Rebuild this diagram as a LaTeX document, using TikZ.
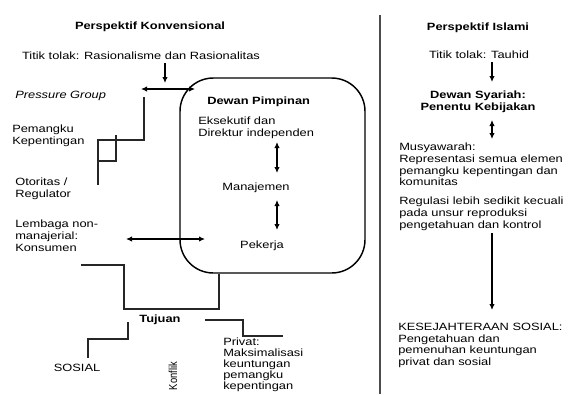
\documentclass[tikz,border=0pt]{standalone}
\usepackage{fontspec}
\setmainfont{Liberation Sans}[FakeStretch=1.22]
\newfontfamily\plainfont{Liberation Sans}
\usetikzlibrary{arrows.meta}
\begin{document}
\begin{tikzpicture}[x=0.75pt,y=-0.75pt,
  txt/.style={font=\fontsize{7.9pt}{8.7pt}\selectfont, inner sep=0pt, text=black},
  ml/.style={txt, align=left, anchor=north west},
  bld/.style={txt, font=\fontsize{7.9pt}{8.7pt}\selectfont\bfseries},
  conn/.style={draw=black!85, line width=0.8pt},
  arr/.style={draw=black, line width=0.8pt, -{Latex[length=4.5pt,width=4pt]}},
  darr/.style={draw=black, line width=0.8pt, {Latex[length=4.5pt,width=4pt]}-{Latex[length=4.5pt,width=4pt]}},
  boxst/.style={draw=black, line width=1.1pt, rounded corners=25}
]
\useasboundingbox (0,0) rectangle (571,394);

% ---------- left: conventional perspective ----------
\node[bld] (kon) at (150,27) {Perspektif Konvensional};
\node[txt] (tt1) at (141,56) {Titik tolak: Rasionalisme dan Rasionalitas};
\node[txt, anchor=west, font=\fontsize{7.9pt}{8.7pt}\selectfont\itshape] (pg) at (15,96) {Pressure Group};
\node[ml] (pk) at (12,125) {Pemangku\\Kepentingan};
\node[ml] (ot) at (15,178) {Otoritas /\\Regulator};
\node[ml] (lb) at (15,220) {Lembaga non-\\manajerial:\\Konsumen};

\draw[boxst] (180,78) rectangle (365,273);
\node[bld, anchor=west] (dp) at (207,102) {Dewan Pimpinan};
\node[ml] (ek) at (198,117) {Eksekutif dan\\Direktur independen};
\node[txt] (mj) at (256,188) {Manajemen};
\node[txt] (pkj) at (262,246) {Pekerja};

\node[bld] (tj) at (160,320) {Tujuan};
\node[txt] (sos) at (77,368) {SOSIAL};
\node[txt, rotate=90] (konf) at (173,376) {\scalebox{1}[1.25]{\plainfont\fontsize{7pt}{8pt}\selectfont Konflik}};
\node[ml, font=\fontsize{7.9pt}{8.25pt}\selectfont] (pv) at (223,337.5) {Privat:\\Maksimalisasi\\keuntungan\\pemangku\\kepentingan};

% arrows left
\coordinate (a1s) at (165,63); \coordinate (a1e) at (165,83);
\draw[arr] (a1s) -- (a1e);
\coordinate (h1l) at (141,89); \coordinate (h1r) at (195,89);
\draw[darr] (h1l) -- (h1r);
\coordinate (v1t) at (277,142); \coordinate (v1b) at (277,173);
\draw[darr] (v1t) -- (v1b);
\coordinate (v2t) at (277,200); \coordinate (v2b) at (277,230);
\draw[darr] (v2t) -- (v2b);
\coordinate (h2l) at (126,239); \coordinate (h2r) at (205,239);
\draw[darr] (h2l) -- (h2r);

% step lines
\coordinate (s1) at (144,97);
\draw[conn] (s1) -- (144,140) -- (98,140) -- (98,185);
\coordinate (s2) at (116,135);
\draw[conn] (s2) -- (116,161) -- (98,161);
\coordinate (s3) at (81,265);
\draw[conn] (s3) -- (124,265) -- (124,309) -- (219,309) -- (219,274);
\coordinate (s4) at (128,322);
\draw[conn] (s4) -- (128,339) -- (88,339) -- (88,358);
\coordinate (s5) at (205,320);
\draw[conn] (s5) -- (243,320) -- (243,336) -- (283,336);

% separator
\coordinate (sepT) at (380,15); \coordinate (sepB) at (380,394);
\draw[draw=black!70, line width=1.3pt] (sepT) -- (sepB);

% ---------- right: Islamic perspective ----------
\node[bld] (isl) at (478,28) {Perspektif Islami};
\node[txt] (tt2) at (479,55) {Titik tolak: Tauhid};
\node[bld, align=center] (ds) at (478,101.5) {Dewan Syariah:\\Penentu Kebijakan};
\node[ml] (mu) at (399,143) {Musyawarah:\\Representasi semua elemen\\pemangku kepentingan dan\\komunitas};
\node[ml] (rg) at (399,197) {Regulasi lebih sedikit kecuali\\pada unsur reproduksi\\pengetahuan dan kontrol};
\node[ml] (ks) at (398,323) {KESEJAHTERAAN SOSIAL:\\Pengetahuan dan\\pemenuhan keuntungan\\privat dan sosial};

\coordinate (r1s) at (492,62); \coordinate (r1e) at (492,82);
\draw[arr] (r1s) -- (r1e);
\coordinate (r2t) at (492,120); \coordinate (r2b) at (492,139);
\draw[darr] (r2t) -- (r2b);
\coordinate (r3s) at (492,233); \coordinate (r3e) at (492,310);
\draw[arr] (r3s) -- (r3e);
\end{tikzpicture}
\end{document}
